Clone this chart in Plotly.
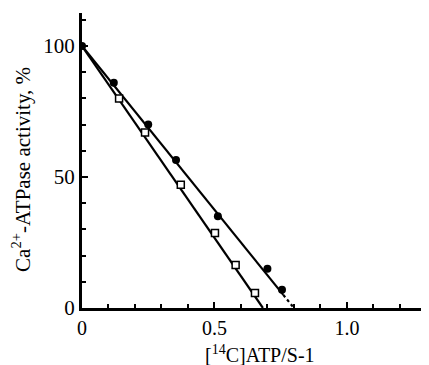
import plotly.graph_objects as go

# Data
circ_x = [0.0, 0.12, 0.25, 0.355, 0.513, 0.70, 0.755]
circ_y = [100, 86, 70, 56.5, 35, 15, 7]
sq_x = [0.0, 0.14, 0.238, 0.373, 0.502, 0.58, 0.653]
sq_y = [100, 80, 67, 47, 28.6, 16.4, 5.7]

# fitted lines (endpoints)
circ_fit_x = [0.0, 0.76]
circ_fit_y = [100, 5]
circ_ext_x = [0.76, 0.80]
circ_ext_y = [5, 0]
sq_fit_x = [0.0, 0.683]
sq_fit_y = [100, 0]

x_ticks = [0, 0.5, 1.0]
x_ticklabels = ["0", "0.5", "1.0"]
y_ticks = [0, 50, 100]
y_ticklabels = ["0", "50", "100"]

x_title = "[<sup>14</sup>C]ATP/S-1"
y_title = "Ca<sup>2+</sup>-ATPase activity, %"

serif = "Liberation Serif"

fig = go.Figure()
fig.add_trace(go.Scatter(x=circ_fit_x, y=circ_fit_y, mode="lines",
                         line=dict(color="black", width=2.2), showlegend=False))
fig.add_trace(go.Scatter(x=circ_ext_x, y=circ_ext_y, mode="lines",
                         line=dict(color="black", width=2.2, dash="dot"), showlegend=False))
fig.add_trace(go.Scatter(x=sq_fit_x, y=sq_fit_y, mode="lines",
                         line=dict(color="black", width=2.2), showlegend=False))
fig.add_trace(go.Scatter(x=circ_x, y=circ_y, mode="markers",
                         marker=dict(symbol="circle", size=8, color="black"), showlegend=False))
fig.add_trace(go.Scatter(x=sq_x[1:], y=sq_y[1:], mode="markers",
                         marker=dict(symbol="square", size=7, color="white",
                                     line=dict(color="black", width=1.5)), showlegend=False))

fig.add_annotation(text=x_title, xref="paper", yref="paper", x=0.513, y=0,
                   xanchor="center", yanchor="middle", yshift=-46, showarrow=False,
                   font=dict(family=serif, size=20, color="black"))
fig.add_annotation(text=y_title, xref="paper", yref="paper", x=0, y=0.468,
                   xanchor="center", yanchor="middle", xshift=-60, textangle=-90,
                   showarrow=False, font=dict(family=serif, size=21, color="black"))

fig.update_layout(
    width=421, height=357,
    margin=dict(l=74, r=0, t=5, b=57),
    plot_bgcolor="white", paper_bgcolor="white",
    font=dict(family=serif, color="black", size=21),
    xaxis=dict(range=[0, 1.31], showline=True, linewidth=3, linecolor="black",
               showgrid=False, zeroline=False, automargin=False,
               tickmode="array", tickvals=x_ticks, ticktext=x_ticklabels,
               ticks="inside", ticklen=6, tickwidth=2, tickcolor="black",
               minor=dict(dtick=0.1, ticks="inside", ticklen=4, tickwidth=1.5, tickcolor="black", showgrid=False),
               tickfont=dict(family=serif, size=20, color="black")),
    yaxis=dict(range=[0, 112.6], showline=True, linewidth=3, linecolor="black",
               showgrid=False, zeroline=False, automargin=False,
               tickmode="array", tickvals=y_ticks, ticktext=y_ticklabels,
               ticks="inside", ticklen=6, tickwidth=2, tickcolor="black",
               minor=dict(dtick=10, ticks="inside", ticklen=4, tickwidth=1.5, tickcolor="black", showgrid=False),
               tickfont=dict(family=serif, size=21, color="black")),
)

fig.write_html("out.html")
